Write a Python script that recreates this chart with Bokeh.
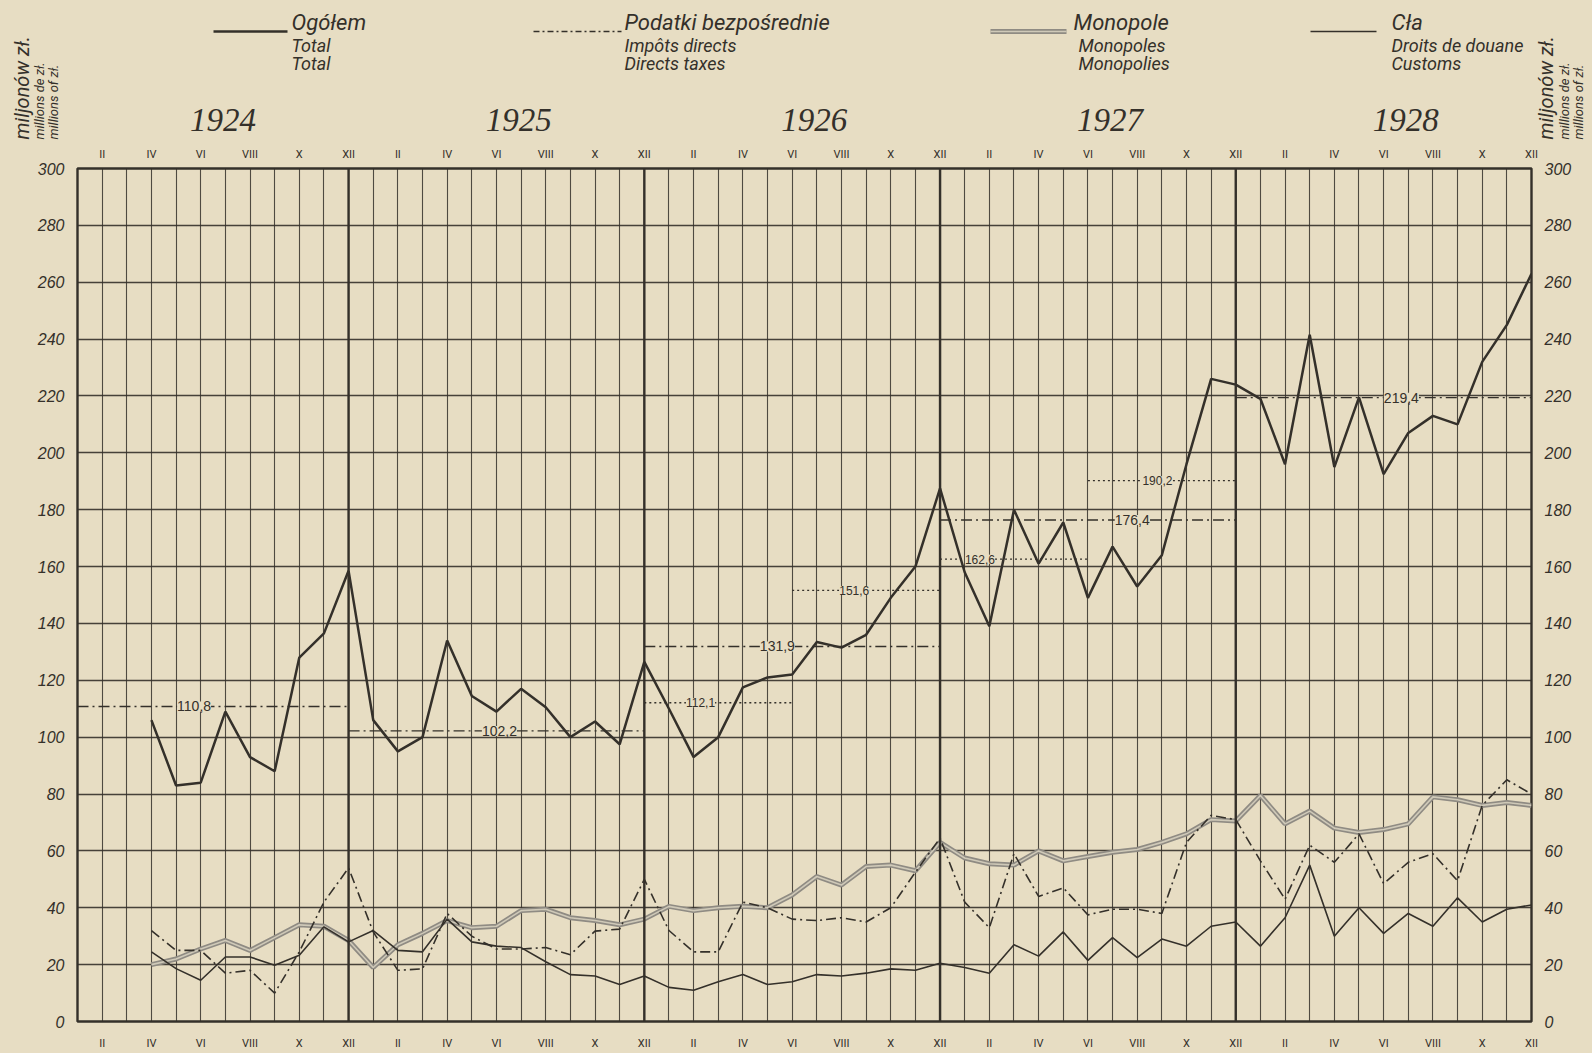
import math
from bokeh.plotting import figure
from bokeh.layouts import column
from bokeh.models import Range1d, LinearAxis, FixedTicker, Span, Label
from bokeh.core.properties import value
from bokeh.embed import file_html
from bokeh.resources import INLINE

# ---------------- data ----------------
years = [1924, 1925, 1926, 1927, 1928]
roman = ["I", "II", "III", "IV", "V", "VI", "VII", "VIII", "IX", "X", "XI", "XII"]
first_month_index = 3  # April 1924

# Ogółem / Total (IV 1924 .. XII 1928)
total = [106, 83, 84, 109, 93, 88, 128, 136.5, 158.5,
         106, 95, 100, 134, 114.5, 109, 117, 110.5, 100, 105.5, 97.5, 126.5,
         110, 93, 100, 117.5, 121, 122, 133.5, 131.5, 136, 149, 160, 187.5,
         158, 139, 180, 161, 175.5, 149, 167, 153, 164, 196, 226, 224,
         219, 196, 241.5, 195, 219.5, 192.5, 207, 213, 210, 232, 245, 263]

# Podatki bezpośrednie / Direct taxes
direct_taxes = [32, 25, 25, 17, 18, 10, 24.5, 42, 54,
                31.5, 18, 18.5, 38, 30, 25.5, 25.5, 26, 23.5, 31.8, 32.5, 50,
                32, 24.5, 24.5, 42, 40, 36, 35.5, 36.5, 35, 40, 52.5, 64.5,
                42, 33, 59, 44, 47, 37.5, 39.5, 39.5, 38, 63, 72.5, 71,
                56.5, 43, 62, 56, 66, 48.5, 56, 59, 49.5, 76, 85, 80]

# Monopole / Monopolies
monopolies = [20, 22, 25.5, 28.5, 25, 29.5, 34, 33.5, 28.5,
              19, 27, 31, 35.5, 33, 33.5, 39, 39.5, 36.5, 35.5, 34, 36,
              40.5, 39, 40, 40.5, 40, 44.5, 51, 48, 54.5, 55, 53, 63,
              57.5, 55.5, 55, 60, 56.5, 58, 59.5, 60.5, 63, 66, 71, 70.5,
              79.5, 69.5, 74, 68, 66.5, 67.5, 69.5, 79, 78, 76, 77, 76]

# Cła / Customs
customs = [24.5, 18.6, 14.5, 22.7, 22.7, 19.8, 23.3, 33.3, 28,
           32, 25, 24.5, 36, 28, 26.5, 26, 21, 16.5, 16, 13, 16,
           12, 11, 14, 16.5, 13, 14, 16.5, 16, 17, 18.5, 18, 20.5,
           19, 17, 27, 23, 31.5, 21.5, 29.5, 22.5, 29, 26.5, 33.5, 35,
           26.5, 36.5, 55, 30, 40, 31, 38, 33.5, 43.5, 35, 39.5, 41]

# yearly averages of the total
annual_years = [1924, 1925, 1926, 1927, 1928]
annual_avg = [110.8, 102.2, 131.9, 176.4, 219.4]
annual_avg_text = ["110,8", "102,2", "131,9", "176,4", "219,4"]

# half-year averages of the total
half_years = [1926, 1926, 1927, 1927]
half_parts = [1, 2, 1, 2]
half_avg = [112.1, 151.6, 162.6, 190.2]
half_avg_text = ["112,1", "151,6", "162,6", "190,2"]

y_ticks = list(range(0, 301, 20))

legend_main = ["Ogółem", "Podatki bezpośrednie", "Monopole", "Cła"]
legend_fr = ["Total", "Impôts directs", "Monopoles", "Droits de douane"]
legend_en = ["Total", "Directs taxes", "Monopolies", "Customs"]
unit_texts = ["miljonów zł.", "millions de zł.", "millions of zł."]

# ---------------- style / layout ----------------
BG = "#E7DDC3"
INK = "#34302a"
GREY_OUT = "#8f8b83"
GREY_IN = "#cfc9b8"
LEGF = "Roboto"
SANS = "Liberation Sans"
SERIF = "Liberation Serif"

W, H = 1592, 1053
HH = 140                      # header strip (legend, years, unit titles)
BL, BR, BT, BB = 77, 61, 28, 32
n_months = len(years) * 12
X0, X1 = 0, n_months - 1
Y0, Y1 = 0, 300
px_x = (W - BL - BR) / (X1 - X0)


def month_px(m):  # month index -> page x (for header items aligned to months)
    return BL + (m - X0) * px_x


def hy(page_y):  # page y -> header data y
    return HH - page_y


# ---------------- header ----------------
hdr = figure(width=W, height=HH, output_backend="svg", toolbar_location=None,
             x_range=Range1d(0, W), y_range=Range1d(0, HH),
             min_border=0, x_axis_location=None, y_axis_location=None)
hdr.grid.visible = False
hdr.outline_line_color = None
hdr.background_fill_color = BG
hdr.border_fill_color = BG

# legend samples
leg_line_x0 = [213, 533, 990, 1310]
leg_line_x1 = [287, 621, 1066, 1376]
leg_text_x = [291, 624, 1073, 1391]
leg_sub_dx = [0, 0, 5, 0]
LY = hy(31)
hdr.line([leg_line_x0[0], leg_line_x1[0]], [LY, LY], line_color=INK, line_width=2.4)
hdr.line([leg_line_x0[1], leg_line_x1[1]], [LY, LY], line_color=INK, line_width=1.6, line_dash="6 3 2 3")
hdr.line([leg_line_x0[2], leg_line_x1[2]], [LY, LY], line_color=GREY_OUT, line_width=5)
hdr.line([leg_line_x0[2], leg_line_x1[2]], [LY, LY], line_color=GREY_IN, line_width=1.6)
hdr.line([leg_line_x0[3], leg_line_x1[3]], [LY, LY], line_color=INK, line_width=1.7)

hdr.text(x=leg_text_x, y=[hy(22)] * 4, text=legend_main, text_font=value(LEGF),
         text_font_style="italic", text_font_size="22px", text_align="left",
         text_baseline="middle", text_color=INK)
sub_x = [a + b for a, b in zip(leg_text_x, leg_sub_dx)]
hdr.text(x=sub_x, y=[hy(45)] * 4, text=legend_fr, text_font=value(LEGF),
         text_font_style="italic", text_font_size="18px", text_align="left",
         text_baseline="middle", text_color=INK)
hdr.text(x=sub_x, y=[hy(63)] * 4, text=legend_en, text_font=value(LEGF),
         text_font_style="italic", text_font_size="18px", text_align="left",
         text_baseline="middle", text_color=INK)

# year labels
hdr.text(x=[month_px(12 * k + 5.9) for k in range(len(years))], y=[hy(119)] * len(years),
         text=[str(y) for y in years], text_font=value(SERIF), text_font_style="italic",
         text_font_size="33px", text_align="center", text_baseline="middle", text_color=INK)

# unit titles (rotated, reading upwards)
unit_sizes = ["20px", "13px", "13px"]
for xs_list in ([21, 39, 53], [1545, 1564, 1578]):
    for sx, txt, fs in zip(xs_list, unit_texts, unit_sizes):
        hdr.text(x=[sx], y=[hy(139)], text=[txt], angle=math.pi / 2,
                 text_font=value(LEGF), text_font_style="italic", text_font_size=fs,
                 text_align="left", text_baseline="middle", text_color=INK)

# ---------------- main chart ----------------
p = figure(width=W, height=H - HH, output_backend="svg", toolbar_location=None,
           x_range=Range1d(X0, X1), y_range=Range1d(Y0, Y1),
           min_border_left=BL, min_border_right=BR, min_border_top=BT, min_border_bottom=BB)
p.background_fill_color = BG
p.border_fill_color = BG
p.outline_line_color = INK
p.outline_line_width = 2.4

for fig in (hdr, p):
    try:
        fig.frame_align = False
    except AttributeError:
        pass

p.xgrid.ticker = FixedTicker(ticks=list(range(X0, X1 + 1)))
p.xgrid.grid_line_color = INK
p.xgrid.grid_line_width = 1.1
p.xgrid.grid_line_alpha = 0.85
p.ygrid.ticker = FixedTicker(ticks=y_ticks)
p.ygrid.grid_line_color = INK
p.ygrid.grid_line_width = 1.5
p.ygrid.grid_line_alpha = 0.9

for k in range(len(years) - 1):
    p.add_layout(Span(location=12 * k + 11, dimension="height", line_color=INK, line_width=2.4))

month_ticks = list(range(1, n_months, 2))
overrides = {m: roman[m % 12] for m in month_ticks}


def style_xaxis(ax, standoff):
    ax.ticker = FixedTicker(ticks=month_ticks)
    ax.major_label_overrides = overrides
    ax.axis_line_color = None
    ax.major_tick_line_color = None
    ax.minor_tick_line_color = None
    ax.major_label_text_font = LEGF
    ax.major_label_text_font_size = "11px"
    ax.major_label_text_color = INK
    ax.major_label_standoff = standoff


def style_yaxis(ax):
    ax.ticker = FixedTicker(ticks=y_ticks)
    ax.axis_line_color = None
    ax.major_tick_line_color = None
    ax.minor_tick_line_color = None
    ax.major_label_text_font = SANS
    ax.major_label_text_font_style = "italic"
    ax.major_label_text_font_size = "16px"
    ax.major_label_text_color = INK
    ax.major_label_standoff = 7


style_xaxis(p.xaxis[0], 9)
top_axis = LinearAxis()
style_xaxis(top_axis, 2)
p.add_layout(top_axis, "above")
style_yaxis(p.yaxis[0])
right_axis = LinearAxis()
style_yaxis(right_axis)
p.add_layout(right_axis, "right")

# averages of the total
for yr, v, txt, frac in zip(annual_years, annual_avg, annual_avg_text, [0.43, 0.51, 0.45, 0.65, 0.56]):
    k = yr - years[0]
    xs = max(X0, 12 * k - 1)
    xe = 12 * k + 11
    p.line([xs, xe], [v, v], line_color=INK, line_width=1.4, line_dash="11 4 2 4")
    p.add_layout(Label(x=xs + frac * (xe - xs), y=v, text=txt, text_align="center",
                       text_baseline="middle", text_font=SANS, text_font_size="14px",
                       text_color=INK, background_fill_color=BG))

for yr, part, v, txt, frac in zip(half_years, half_parts, half_avg, half_avg_text, [0.38, 0.42, 0.27, 0.47]):
    k = yr - years[0]
    xs = 12 * k - 1 + (part - 1) * 6
    xe = xs + 6
    p.line([xs, xe], [v, v], line_color=INK, line_width=1.3, line_dash="2 3")
    p.add_layout(Label(x=xs + frac * (xe - xs), y=v, text=txt, text_align="center",
                       text_baseline="middle", text_font=SANS, text_font_size="12px",
                       text_color=INK, background_fill_color=BG))

# series
xs_series = list(range(first_month_index, first_month_index + len(total)))
p.line(xs_series, monopolies, line_color=GREY_OUT, line_width=5)
p.line(xs_series, monopolies, line_color=GREY_IN, line_width=1.6)
p.line(xs_series, customs, line_color=INK, line_width=1.6)
p.line(xs_series, direct_taxes, line_color=INK, line_width=1.6, line_dash="10 4 2 4")
p.line(xs_series, total, line_color=INK, line_width=2.5)

layout = column(hdr, p, spacing=0, styles={"background-color": BG})
open("out.html", "w").write(file_html(layout, INLINE))
